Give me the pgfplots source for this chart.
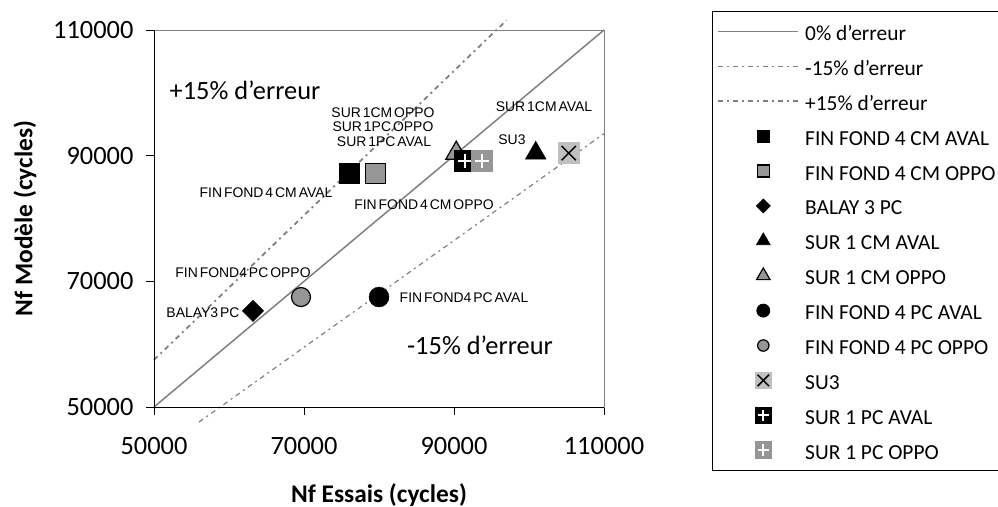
\documentclass[border=0pt]{standalone}
\usepackage{fontspec}
\setmainfont{Carlito}
\newfontfamily\lblfont[WordSpace=0.5]{Liberation Sans}
\usepackage{pgfplots}
\pgfplotsset{compat=1.18}

\definecolor{midgray}{RGB}{150,150,150}
\definecolor{lightgray}{RGB}{192,192,192}
\definecolor{linegray}{RGB}{128,128,128}

% filled square with a white plus
\pgfdeclareplotmark{boxplus}{%
  \pgfpathrectangle{\pgfpoint{-\pgfplotmarksize}{-\pgfplotmarksize}}{\pgfpoint{2\pgfplotmarksize}{2\pgfplotmarksize}}%
  \pgfusepathqfill
  \pgfsetstrokecolor{white}%
  \pgfsetlinewidth{1.8bp}%
  \pgfpathmoveto{\pgfpoint{-0.65\pgfplotmarksize}{0pt}}\pgfpathlineto{\pgfpoint{0.65\pgfplotmarksize}{0pt}}%
  \pgfpathmoveto{\pgfpoint{0pt}{-0.65\pgfplotmarksize}}\pgfpathlineto{\pgfpoint{0pt}{0.65\pgfplotmarksize}}%
  \pgfusepathqstroke
}
% filled square with a black cross
\pgfdeclareplotmark{boxcross}{%
  \pgfpathrectangle{\pgfpoint{-\pgfplotmarksize}{-\pgfplotmarksize}}{\pgfpoint{2\pgfplotmarksize}{2\pgfplotmarksize}}%
  \pgfusepathqfill
  \pgfsetstrokecolor{black}%
  \pgfsetlinewidth{1.5bp}%
  \pgfpathmoveto{\pgfpoint{-0.65\pgfplotmarksize}{-0.65\pgfplotmarksize}}\pgfpathlineto{\pgfpoint{0.65\pgfplotmarksize}{0.65\pgfplotmarksize}}%
  \pgfpathmoveto{\pgfpoint{-0.65\pgfplotmarksize}{0.65\pgfplotmarksize}}\pgfpathlineto{\pgfpoint{0.65\pgfplotmarksize}{-0.65\pgfplotmarksize}}%
  \pgfusepathqstroke
}

\pgfplotsset{
  ln/.style={legend image code/.code={\draw[##1] (0bp,0bp) -- (80bp,0bp);}},
  mk/.style={only marks, legend image code/.code={%
      \draw[mark repeat=2,mark phase=2,##1,every mark/.append style={scale=#1}]
        plot coordinates {(0bp,0bp) (45bp,0bp) (80bp,0bp)};}},
}

\begin{document}
\begin{tikzpicture}
\begin{axis}[
  at={(154bp,100bp)}, anchor=south west,
  scale only axis, width=450bp, height=377bp,
  xmin=50000, xmax=110000, ymin=50000, ymax=110000,
  xtick={50000,70000,90000,110000},
  ytick={50000,70000,90000,110000},
  scaled ticks=false,
  /pgf/number format/fixed,
  /pgf/number format/1000 sep={},
  /pgf/number format/assume math mode=true,
  tick align=outside, major tick length=8bp,
  xtick pos=bottom, ytick pos=left,
  tick style={black, line width=0.8bp},
  axis line style={linegray, line width=0.8bp},
  ticklabel style={font=\fontsize{26.5}{30}\selectfont},
  xticklabel style={yshift=-19bp},
  yticklabel style={xshift=-9bp},
  xlabel={Nf Essais (cycles)},
  ylabel={Nf Modèle (cycles)},
  label style={font=\bfseries\fontsize{25.5}{30}\selectfont},
  xlabel style={at={([yshift=-88bp]axis description cs:0.5,0)}, anchor=center},
  ylabel style={at={([xshift=-129bp]axis description cs:0,0.5)}, anchor=center},
  clip=false,
  legend cell align=left,
  legend style={
    at={(1.2400,1.0504)}, anchor=north west,
    draw=black, line width=0.8bp,
    font=\fontsize{21.5}{24}\selectfont,
    inner xsep=5bp, inner ysep=5bp,
    row sep=4.9bp, column sep=6bp,
    nodes={inner sep=0pt, text height=24bp, text depth=6bp},
  },
]
% reference lines: 0 %, -15 %, +15 %
\addplot[ln, linegray, line width=1.5bp] coordinates {(50000,50000) (110000,110000)};
\addlegendentry{0\% d'erreur}
\addplot[ln, linegray, line width=1.2bp, dash pattern=on 5bp off 4bp on 2bp off 4bp] coordinates {(56000,47600) (110000,93500)};
\addlegendentry{-15\% d'erreur}
\addplot[ln, linegray, line width=1.8bp, dash pattern=on 5bp off 4bp on 2bp off 4bp] coordinates {(50000,57500) (97000,111550)};
\addlegendentry{+15\% d'erreur}

% measurements
\addplot[mk=0.6, mark=square*, mark size=10bp, mark options={fill=black, draw=black}] coordinates {(76000,87200)};
\addlegendentry{FIN FOND 4 CM AVAL}
\addplot[mk=0.6, mark=square*, mark size=10bp, mark options={fill=midgray, draw=black, line width=1.2bp}] coordinates {(79500,87200)};
\addlegendentry{FIN FOND 4 CM OPPO\hspace*{40bp}}
\addplot[mk=0.65, mark=square*, mark size=7.5bp, mark options={fill=black, draw=black, rotate=45}] coordinates {(63200,65300)};
\addlegendentry{BALAY 3 PC}
\addplot[mk=0.65, mark=triangle*, mark size=12bp, mark options={fill=black, draw=black}] coordinates {(100900,90400)};
\addlegendentry{SUR 1 CM AVAL}
\addplot[mk=0.65, mark=triangle*, mark size=12bp, mark options={fill=midgray, draw=black, line width=1.2bp}] coordinates {(90300,90400)};
\addlegendentry{SUR 1 CM OPPO}
\addplot[mk=0.65, mark=*, mark size=10bp, mark options={fill=black, draw=black}] coordinates {(80000,67500)};
\addlegendentry{FIN FOND 4 PC AVAL}
\addplot[mk=0.6, mark=*, mark size=9.5bp, mark options={fill=midgray, draw=black, line width=1.2bp}] coordinates {(69600,67500)};
\addlegendentry{FIN FOND 4 PC OPPO}
\addplot[mk=0.8, mark=boxcross, mark size=11bp, mark options={fill=lightgray}] coordinates {(105300,90400)};
\addlegendentry{SU3}
\addplot[mk=0.8, mark=boxplus, mark size=11bp, mark options={fill=black}] coordinates {(91500,89200)};
\addlegendentry{SUR 1 PC AVAL}
\addplot[mk=0.8, mark=boxplus, mark size=11bp, mark options={fill=midgray}] coordinates {(93700,89200)};
\addlegendentry{SUR 1 PC OPPO}

% point labels
\begin{scope}[every node/.style={font=\lblfont\fontsize{14}{15}\selectfont, inner sep=0pt}]
\node at (axis cs:80533,96793) {SUR 1CM OPPO};
\node at (axis cs:80533,94565) {SUR 1PC OPPO};
\node at (axis cs:80667,92177) {SUR 1PC AVAL};
\node at (axis cs:64933,84060) {FIN FOND 4 CM AVAL};
\node at (axis cs:86000,82150) {FIN FOND 4 CM OPPO};
\node at (axis cs:102000,97750) {SUR 1CM AVAL};
\node at (axis cs:97733,92495) {SU3};
\node at (axis cs:61867,71327) {FIN FOND4 PC OPPO};
\node at (axis cs:56533,64961) {BALAY3 PC};
\node at (axis cs:91333,67349) {FIN FOND4 PC AVAL};
\end{scope}
\node[font=\fontsize{26.5}{30}\selectfont, inner sep=0pt] at (axis cs:62133,100453) {+15\% d'erreur};
\node[font=\fontsize{26.5}{30}\selectfont, inner sep=0pt] at (axis cs:93467,59868) {-15\% d'erreur};

% left and bottom axis lines in black
\draw[black, line width=0.8bp] (rel axis cs:0,1) -- (rel axis cs:0,0) -- (rel axis cs:1,0);
\end{axis}
\pgfresetboundingbox
\useasboundingbox (0bp,0bp) rectangle (998bp,507bp);
\end{tikzpicture}
\end{document}
